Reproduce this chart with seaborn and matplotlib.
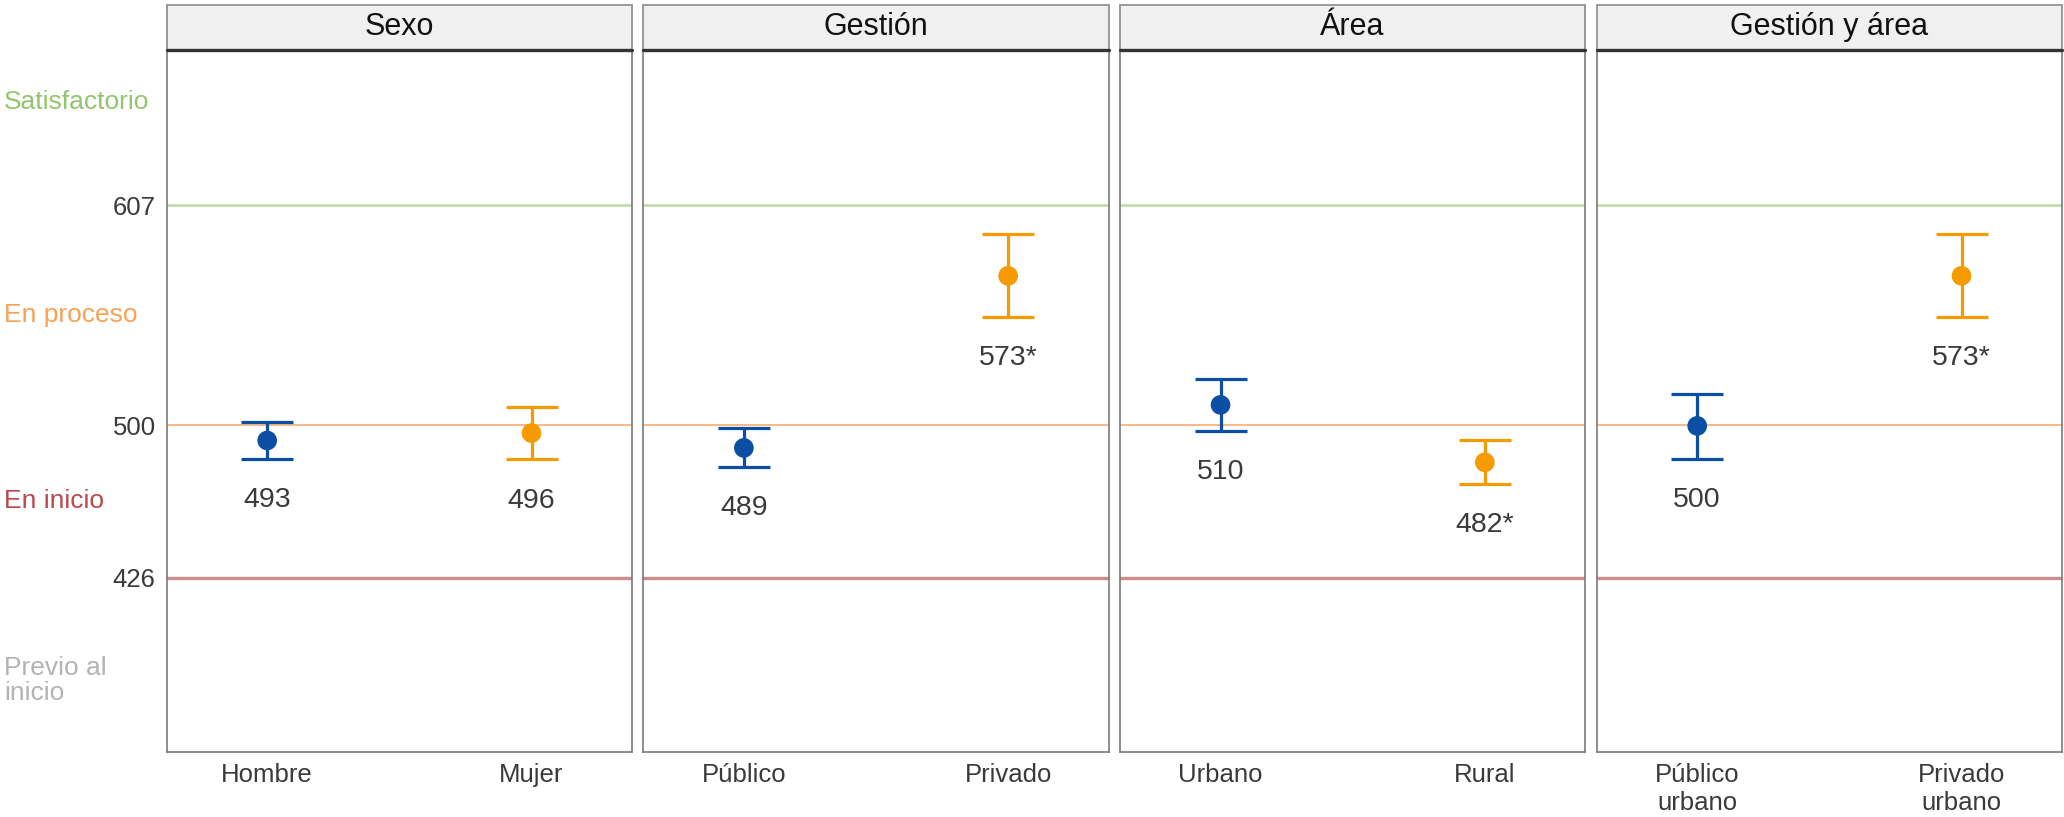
import matplotlib
matplotlib.use("Agg")
import matplotlib.pyplot as plt
from matplotlib.patches import Rectangle
from matplotlib.transforms import blended_transform_factory
import pandas as pd
import seaborn as sns

# panel data
panels = ["Sexo", "Gestión", "Área", "Gestión y área"]
categories = [["Hombre", "Mujer"],
              ["Público", "Privado"],
              ["Urbano", "Rural"],
              ["Público\nurbano", "Privado\nurbano"]]
means = [[492.6, 496.2], [489.0, 572.6], [509.9, 482.0], [499.7, 572.6]]
lower = [[483.6, 483.4], [479.9, 552.8], [497.2, 471.6], [483.8, 552.8]]
upper = [[501.6, 509.1], [498.5, 592.8], [522.5, 492.7], [515.2, 592.8]]
value_labels = [["493", "496"], ["489", "573*"], ["510", "482*"], ["500", "573*"]]

cut_points = [607, 500, 426]
level_names = ["Satisfactorio", "En proceso", "En inicio", "Previo al\ninicio"]

BLUE = "#0b4fa5"
ORANGE = "#f59b00"
point_colors = [BLUE, ORANGE]
cut_colors = ["#bdd99f", "#f9b27c", "#cd8b8b"]
cut_widths = [1.8, 1.3, 2.4]
level_colors = ["#93c56c", "#f7a254", "#b84a4e", "#b3b3b3"]
TEXT = "#3a3a3a"

rows = []
for p, cats in enumerate(categories):
    for i, c in enumerate(cats):
        rows.append({"panel": panels[p], "cat": c, "mean": means[p][i],
                     "lo": lower[p][i], "hi": upper[p][i], "label": value_labels[p][i]})
df = pd.DataFrame(rows)

sns.set_theme(style="white")
plt.rcParams["font.family"] = ["Liberation Sans", "DejaVu Sans"]

fig, axes = plt.subplots(1, 4, figsize=(20.64, 8.17), dpi=100, sharey=True)
fig.subplots_adjust(left=0.0808, right=0.999, bottom=0.0796, top=0.9388, wspace=0.0247)

y_lim = (341.3, 682.3)
strip_h = 0.0645

for ax, panel in zip(axes, panels):
    sub = df[df["panel"] == panel].reset_index(drop=True)

    for yv, col, lw in zip(cut_points, cut_colors, cut_widths):
        ax.axhline(yv, color=col, lw=lw, zorder=1)

    for i, r in sub.iterrows():
        ax.errorbar(i, r["mean"], yerr=[[r["mean"] - r["lo"]], [r["hi"] - r["mean"]]],
                    fmt="none", ecolor=point_colors[i], elinewidth=2.3,
                    capsize=19, capthick=2.3, zorder=2)
        ax.text(i, r["lo"] - 20, r["label"], ha="center", va="center",
                fontsize=20.5, color=TEXT)

    sns.scatterplot(data=sub, x="cat", y="mean", hue="cat", palette=point_colors,
                    s=200, linewidth=0, legend=False, ax=ax, zorder=3)

    ax.set_xlim(-0.38, 1.38)
    ax.set_ylim(*y_lim)
    ax.set_xlabel("")
    ax.set_ylabel("")
    ax.tick_params(axis="x", length=0, pad=8, labelsize=18.5, labelcolor=TEXT)
    ax.tick_params(axis="y", length=0)
    for s in ax.spines.values():
        s.set_visible(True)
        s.set_color("#7a7a7a")
        s.set_linewidth(1.2)

    # facet strip
    ax.add_patch(Rectangle((0, 1), 1, strip_h, transform=ax.transAxes, clip_on=False,
                           facecolor="#f0f0f0", edgecolor="#8a8a8a", lw=1.2, zorder=5))
    ax.plot([0, 1], [1, 1], transform=ax.transAxes, color="#333333", lw=2.4,
            clip_on=False, zorder=6)
    ax.text(0.5, 1 + strip_h / 2, panel, transform=ax.transAxes, ha="center",
            va="center", fontsize=22, color="#111111", zorder=7)

ax0 = axes[0]
ax0.set_yticks(cut_points)
ax0.set_yticklabels([str(v) for v in cut_points])
ax0.tick_params(axis="y", pad=8, labelsize=18.5, labelcolor=TEXT)

# performance level names, midway between cut points
level_y = [cut_points[0] + 50,
           (cut_points[0] + cut_points[1]) / 2,
           (cut_points[1] + cut_points[2]) / 2,
           cut_points[2] - 50]
tr = blended_transform_factory(fig.transFigure, ax0.transData)
for name, yv, col in zip(level_names, level_y, level_colors):
    ax0.text(0.002, yv, name, transform=tr, ha="left", va="center",
             fontsize=19, color=col, linespacing=1.1)

fig.savefig("out.png", dpi=100)
